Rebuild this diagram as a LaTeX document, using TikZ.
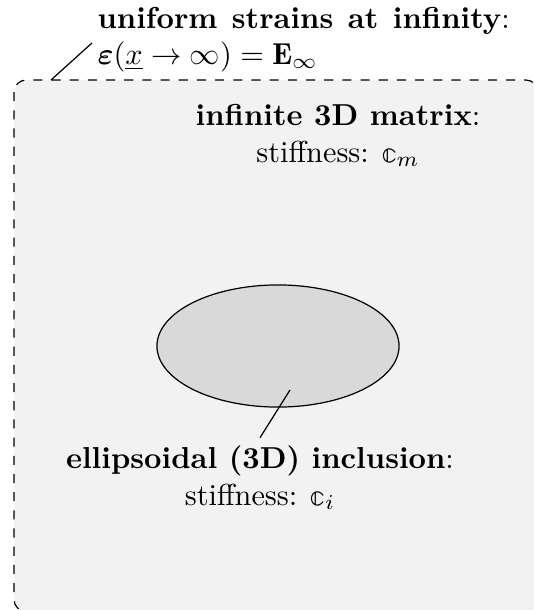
\documentclass[tikz,border=0pt]{standalone}
\usepackage{amsmath,bm}
\usepackage{fontspec}
\newfontfamily\bbfont{latinmodern-math.otf}
\newcommand{\bbc}{\text{\bbfont 𝕔}}
\usetikzlibrary{shapes.geometric}
\begin{document}
\begin{tikzpicture}[x=0.33pt,y=-0.33pt,
  region/.style={draw, dashed, fill=gray!10, rounded corners=4pt},
  inclusion/.style={draw, fill=gray!30, ellipse, inner sep=0pt,
    minimum width=79.9pt, minimum height=40.3pt},
  lbl/.style={inner sep=0pt, align=center, anchor=base},
  leader/.style={draw}]
\useasboundingbox (0,0) rectangle (534,610);
\clip (0,0) rectangle (534,610);
% matrix region
\draw[region] (14,80) rectangle (538,611.5);
\coordinate (c1) at (51,80);
% inclusion
\node[inclusion] (incl) at (278,346) {};
\coordinate (p) at (290,390);
% labels
\node[inner sep=1.65pt, text width=136pt, align=justify, anchor=base west] (inf) at (92,28)
  {\textbf{uniform strains at infinity}:\linebreak
   $\bm{\varepsilon}(\underline{x}\to\infty)=\mathbf{E}_\infty$};
\node[lbl] (mat) at (338,162)
  {\textbf{infinite 3D matrix}:\\ stiffness: $\bbc_m$};
\node[lbl, inner sep=2.5pt] (incll) at (260,505)
  {\textbf{ellipsoidal (3D) inclusion}:\\ stiffness: $\bbc_i$};
% leaders
\draw[leader] (c1) -- ([yshift=-1.2pt]inf.west);
\draw[leader] (p) -- (incll.north);
\end{tikzpicture}
\end{document}
